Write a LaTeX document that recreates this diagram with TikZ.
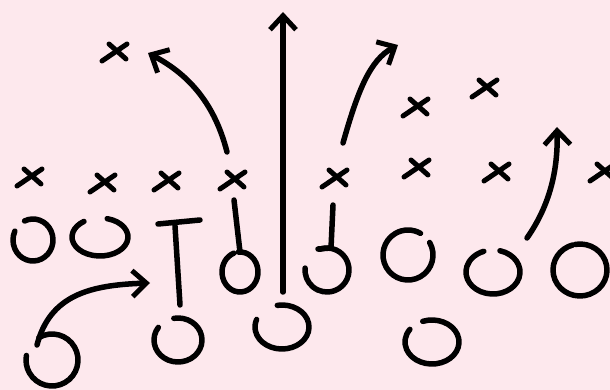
\documentclass[tikz,border=0pt]{standalone}
\usetikzlibrary{arrows.meta}

\definecolor{fieldpink}{RGB}{253,232,237}

\tikzset{
  chalk/.style={line width=5.5pt,line cap=round,line join=round},
  route/.style={chalk,-{Straight Barb[length=14pt,width=26pt,line width=5pt]}},
  cross/.pic={
    \draw[chalk,line width=5pt] (-13,9)--(12,-8);
    \draw[chalk,line width=5pt] (-6,-8)--(11,7);
  },
}

\begin{document}
\begin{tikzpicture}[x=1pt,y=-1pt]
        \fill[fieldpink] (0,0) rectangle (610,390);
        \useasboundingbox (0,0) rectangle (610,390);

        % defence
        \foreach \p in {(115,52),(30,177),(103,183),(167,181),(233,180),
                        (335,178),(416,107),(485,88),(417,168),(497,172),(603,172)}
            \pic at \p {cross};

        % offence
        \coordinate (qb) at (282,327);
        \coordinate (rb) at (52,360);
        \coordinate (te) at (178,340);

        \draw[chalk] (33,240) ++(-115:20 and 21) arc[start angle=-115,end angle=205,x radius=20,y radius=21];
        \draw[chalk] (100,237) ++(-75:28 and 19) arc[start angle=-75,end angle=235,x radius=28,y radius=19];
        \draw[chalk] (te) ++(-100:24 and 22) arc[start angle=-100,end angle=215,x radius=24,y radius=22];
        \draw[chalk] (158,224) -- (200,220) (175,226) -- (180,305);
        \draw[chalk] (240,272) ++(-95:18 and 20) arc[start angle=-95,end angle=250,x radius=18,y radius=20];
        \draw[chalk] (234,200) -- (240,252);
        \draw[chalk] (qb) ++(-100:27 and 22) arc[start angle=-100,end angle=200,x radius=27,y radius=22];
        \draw[chalk] (327,270) ++(-110:22) arc[start angle=-110,end angle=185,radius=22];
        \draw[chalk] (333,205) -- (331,248) -- (318,249);
        \draw[chalk] (408,255) ++(-30:25) arc[start angle=-30,end angle=300,radius=25];
        \draw[chalk] (493,272) ++(-75:27 and 22) arc[start angle=-75,end angle=250,x radius=27,y radius=22];
        \draw[chalk] (580,270) ++(-100:27 and 26) arc[start angle=-100,end angle=255,x radius=27,y radius=26];
        \draw[chalk] (432,342) ++(-110:27 and 22) arc[start angle=-110,end angle=215,x radius=27,y radius=22];
        \draw[chalk] (rb) ++(-120:26) arc[start angle=-120,end angle=190,radius=26];

        % routes
        \draw[route] (37,345) .. controls (50,295) and (90,285) .. (150,283);
        \draw[route] (227,152) .. controls (215,105) and (190,75) .. (148,53);
        \draw[route] (283,292) -- (283,12);
        \draw[route] (343,143) .. controls (358,90) and (370,60) .. (398,45);
        \draw[route] (527,238) .. controls (550,205) and (558,170) .. (557,127);
\end{tikzpicture}
\end{document}
